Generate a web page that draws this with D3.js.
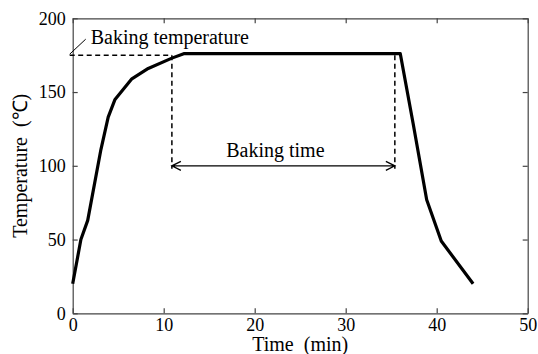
<!DOCTYPE html>
<html>
<head>
<meta charset="utf-8">
<script src="https://cdn.jsdelivr.net/npm/d3@7"></script>
<style>
  body { margin: 0; background: #fff; }
  svg { display: block; }
  svg text { font-family: "Liberation Serif", "Times New Roman", serif; fill: #000; }
</style>
</head>
<body>
<div id="chart"></div>
<script>
const width = 538;
const height = 354;

// temperature profile
const timeMin = [0, 0.9, 1.65, 3.1, 3.9, 4.65, 6.5, 8.3, 10.9, 12.2, 36.0, 37.4, 38.9, 40.5, 44.0];
const tempC   = [20, 50, 63, 111, 133, 145, 159, 166, 173, 176, 176, 129, 77, 49, 20];

const xTicks = [0, 10, 20, 30, 40, 50];
const yTicks = [0, 50, 100, 150, 200];

const bakingTemp = 175;
const bakingStart = 10.9;
const bakingEnd = 35.4;
const arrowLevel = 100;

const margin = {top: 18.3, right: 10.3, bottom: 40.7, left: 72.7};

const x = d3.scaleLinear().domain([0, 50]).range([margin.left, width - margin.right]);
const y = d3.scaleLinear().domain([0, 200]).range([height - margin.bottom, margin.top]);

const svg = d3.select("#chart").append("svg")
    .attr("width", width)
    .attr("height", height)
    .attr("viewBox", [0, 0, width, height]);

const axisColor = "#444";

// frame + inward ticks on all four sides
const axBottom = svg.append("g")
    .attr("transform", `translate(0,${y(0)})`)
    .call(d3.axisBottom(x).tickValues(xTicks).tickSizeInner(-5).tickSizeOuter(0).tickPadding(5));
const axTop = svg.append("g")
    .attr("transform", `translate(0,${y(200)})`)
    .call(d3.axisTop(x).tickValues(xTicks).tickSizeInner(-5).tickSizeOuter(0).tickFormat(""));
const axLeft = svg.append("g")
    .attr("transform", `translate(${x(0)},0)`)
    .call(d3.axisLeft(y).tickValues(yTicks).tickSizeInner(-5).tickSizeOuter(0).tickPadding(7));
const axRight = svg.append("g")
    .attr("transform", `translate(${x(50)},0)`)
    .call(d3.axisRight(y).tickValues(yTicks).tickSizeInner(-5).tickSizeOuter(0).tickFormat(""));

[axBottom, axTop, axLeft, axRight].forEach(g => {
    g.attr("font-family", "Liberation Serif").attr("font-size", 18);
    g.select(".domain").attr("stroke", axisColor).attr("stroke-width", 1.2);
    g.selectAll(".tick line").attr("stroke", axisColor).attr("stroke-width", 1.2);
});

// axis titles
svg.append("text")
    .attr("x", x(25))
    .attr("y", 351)
    .attr("text-anchor", "middle")
    .attr("font-size", 20)
    .style("white-space", "pre")
    .text("Time  (min)");

svg.append("text")
    .attr("transform", `translate(27,${(y(0) + y(200)) / 2}) rotate(-90)`)
    .attr("text-anchor", "middle")
    .attr("font-size", 20)
    .style("white-space", "pre")
    .text("Temperature  (℃)");

// dashed guides
const dash = svg.append("g")
    .attr("stroke", "#000")
    .attr("stroke-width", 1.5)
    .attr("stroke-dasharray", "5,3.5")
    .attr("fill", "none");

dash.append("line")
    .attr("x1", x(0) - 3).attr("x2", x(bakingStart))
    .attr("y1", y(bakingTemp)).attr("y2", y(bakingTemp));
dash.append("line")
    .attr("x1", x(bakingStart)).attr("x2", x(bakingStart))
    .attr("y1", y(bakingTemp)).attr("y2", y(arrowLevel) + 3);
dash.append("line")
    .attr("x1", x(bakingEnd)).attr("x2", x(bakingEnd))
    .attr("y1", y(bakingTemp)).attr("y2", y(arrowLevel) + 3);

// baking time arrow, open heads at both ends
const ay = y(arrowLevel);
const x0 = x(bakingStart), x1 = x(bakingEnd);
svg.append("path")
    .attr("fill", "none")
    .attr("stroke", "#000")
    .attr("stroke-width", 1.3)
    .attr("d", `M${x0},${ay}H${x1}` +
               `M${x0 + 9},${ay - 4.5}L${x0},${ay}L${x0 + 9},${ay + 4.5}` +
               `M${x1 - 9},${ay - 4.5}L${x1},${ay}L${x1 - 9},${ay + 4.5}`);

svg.append("text")
    .attr("x", (x0 + x1) / 2 - 8)
    .attr("y", ay - 9)
    .attr("text-anchor", "middle")
    .attr("font-size", 20)
    .text("Baking time");

// baking temperature label with leader
svg.append("line")
    .attr("x1", x(0) - 3).attr("y1", y(bakingTemp) - 1)
    .attr("x2", x(0) + 13).attr("y2", y(bakingTemp) - 16)
    .attr("stroke", "#000")
    .attr("stroke-width", 1);

svg.append("text")
    .attr("x", x(0) + 18)
    .attr("y", y(bakingTemp) - 11.5)
    .attr("font-size", 20)
    .text("Baking temperature");

// temperature curve
const line = d3.line()
    .x((d, i) => x(timeMin[i]))
    .y(d => y(d));

svg.append("path")
    .datum(tempC)
    .attr("fill", "none")
    .attr("stroke", "#000")
    .attr("stroke-width", 3.2)
    .attr("stroke-linejoin", "round")
    .attr("stroke-linecap", "butt")
    .attr("d", line);
</script>
</body>
</html>
